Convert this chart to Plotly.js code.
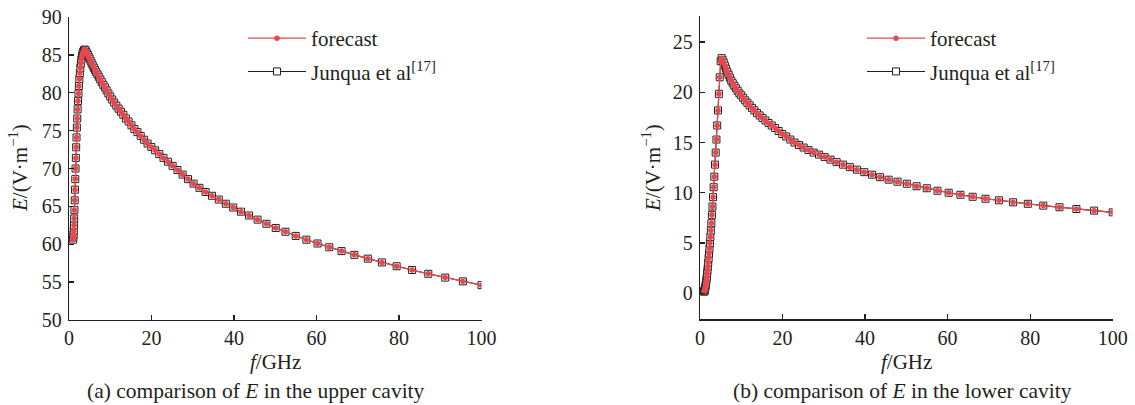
<!DOCTYPE html>
<html>
<head>
<meta charset="utf-8">
<script src="https://cdn.plot.ly/plotly-3.0.1.min.js"></script>
<style>html,body{margin:0;padding:0;background:#fff;}#chart{width:1135px;height:405px;}</style>
</head>
<body>
<div id="chart"></div>
<script>
// frequency samples (GHz)
const freqGHz = [1.000,1.047,1.096,1.148,1.202,1.259,1.318,1.380,1.445,1.514,
1.585,1.660,1.738,1.820,1.905,1.995,2.089,2.188,2.291,2.399,
2.512,2.630,2.754,2.884,3.020,3.162,3.311,3.467,3.631,3.802,
3.981,4.169,4.365,4.571,4.786,5.012,5.248,5.495,5.754,6.026,
6.310,6.607,6.918,7.244,7.586,7.943,8.318,8.710,9.120,9.550,
10.00,10.47,10.96,11.48,12.02,12.59,13.18,13.80,14.45,15.14,
15.85,16.60,17.38,18.20,19.05,19.95,20.89,21.88,22.91,23.99,
25.12,26.30,27.54,28.84,30.20,31.62,33.11,34.67,36.31,38.02,
39.81,41.69,43.65,45.71,47.86,50.12,52.48,54.95,57.54,60.26,
63.10,66.07,69.18,72.44,75.86,79.43,83.18,87.10,91.20,95.50,100.0];

// (a) upper cavity, E in V/m
const eUpperForecast = [60.6,60.9,61.3,61.8,62.5,63.4,64.5,65.8,67.2,68.6,
70.0,71.4,72.8,74.1,75.4,76.6,77.8,78.9,79.9,80.9,
81.8,82.6,83.3,83.9,84.4,84.85,85.2,85.45,85.6,85.7,
85.6,85.4,85.2,85.0,84.75,84.5,84.2,83.9,83.6,83.3,
83.0,82.7,82.4,82.1,81.75,81.4,81.05,80.7,80.3,79.9,
79.5,79.1,78.7,78.3,77.9,77.5,77.1,76.6,76.2,75.7,
75.2,74.8,74.3,73.8,73.3,72.85,72.4,71.9,71.4,70.9,
70.35,69.8,69.2,68.6,68.0,67.45,66.9,66.4,65.9,65.35,
64.85,64.3,63.8,63.25,62.7,62.15,61.65,61.1,60.6,60.1,
59.6,59.1,58.6,58.1,57.6,57.1,56.6,56.1,55.6,55.1,54.6];
const eUpperJunqua = [60.6,60.9,61.3,61.8,62.5,63.4,64.5,65.8,67.2,68.6,
70.0,71.4,72.8,74.1,75.4,76.6,77.8,78.9,79.9,80.9,
81.8,82.6,83.3,83.9,84.4,84.85,85.2,85.45,85.6,85.7,
85.6,85.4,85.2,85.0,84.75,84.5,84.2,83.9,83.6,83.3,
83.0,82.7,82.4,82.1,81.75,81.4,81.05,80.7,80.3,79.9,
79.5,79.1,78.7,78.3,77.9,77.5,77.1,76.6,76.2,75.7,
75.2,74.8,74.3,73.8,73.3,72.85,72.4,71.9,71.4,70.9,
70.35,69.8,69.2,68.6,68.0,67.45,66.9,66.4,65.9,65.35,
64.85,64.3,63.8,63.25,62.7,62.15,61.65,61.1,60.6,60.1,
59.6,59.1,58.6,58.1,57.6,57.1,56.6,56.1,55.6,55.1,54.6];

// (b) lower cavity, E in V/m
const eLowerForecast = [0.15,0.2,0.25,0.3,0.4,0.5,0.65,0.8,0.95,1.15,
1.4,1.65,1.95,2.3,2.65,3.05,3.5,3.95,4.45,4.98,
5.58,6.24,6.97,7.8,8.63,9.56,10.55,11.6,12.8,14.0,
15.3,16.7,18.2,19.85,21.5,23.1,23.4,23.2,22.95,22.65,
22.35,22.05,21.75,21.45,21.15,20.9,20.65,20.4,20.15,19.9,
19.7,19.45,19.2,18.95,18.7,18.45,18.2,17.95,17.7,17.45,
17.2,16.95,16.7,16.45,16.15,15.85,15.6,15.3,15.0,14.75,
14.5,14.25,14.0,13.8,13.55,13.3,13.05,12.8,12.55,12.3,
12.05,11.8,11.55,11.3,11.1,10.9,10.65,10.45,10.2,10.0,
9.8,9.6,9.4,9.25,9.05,8.9,8.72,8.56,8.38,8.22,8.05];
const eLowerJunqua = [0.15,0.2,0.25,0.3,0.4,0.5,0.65,0.8,0.95,1.15,
1.4,1.65,1.95,2.3,2.65,3.05,3.5,3.95,4.45,4.98,
5.58,6.24,6.97,7.8,8.63,9.56,10.55,11.6,12.8,14.0,
15.3,16.7,18.2,19.85,21.5,23.1,23.4,23.2,22.95,22.65,
22.35,22.05,21.75,21.45,21.15,20.9,20.65,20.4,20.15,19.9,
19.7,19.45,19.2,18.95,18.7,18.45,18.2,17.95,17.7,17.45,
17.2,16.95,16.7,16.45,16.15,15.85,15.6,15.3,15.0,14.75,
14.5,14.25,14.0,13.8,13.55,13.3,13.05,12.8,12.55,12.3,
12.05,11.8,11.55,11.3,11.1,10.9,10.65,10.45,10.2,10.0,
9.8,9.6,9.4,9.25,9.05,8.9,8.72,8.56,8.38,8.22,8.05];

const seriesNames = ['forecast', 'Junqua et al<sup>[17]</sup>'];
const xTickVals = [0, 20, 40, 60, 80, 100];
const yTickValsA = [50, 55, 60, 65, 70, 75, 80, 85, 90];
const yTickValsB = [0, 5, 10, 15, 20, 25];
const captions = ['(a) comparison of <i>E</i> in the upper cavity', '(b) comparison of <i>E</i> in the lower cavity'];

const RED = '#e8474f';
const INK = '#231f20';
const FONT = 'Liberation Serif, Times New Roman, serif';

function junquaTrace(y, xa, ya, lg) {
  return {x: freqGHz, y: y, xaxis: xa, yaxis: ya, legend: lg, name: seriesNames[1],
    type: 'scatter', mode: 'lines+markers', legendrank: 2, legendgroup: 'j' + lg,
    line: {color: INK, width: 1.1},
    marker: {symbol: 'square', size: 7, color: '#ffffff', line: {color: INK, width: 1}}};
}
function forecastTrace(y, xa, ya, lg) {
  return {x: freqGHz, y: y, xaxis: xa, yaxis: ya, legend: lg, name: seriesNames[0],
    type: 'scatter', mode: 'lines+markers', legendrank: 1, legendgroup: 'f' + lg,
    line: {color: RED, width: 1.3},
    marker: {symbol: 'circle', size: 5.5, color: RED}};
}

const data = [
  junquaTrace(eUpperJunqua, 'x', 'y', 'legend'),
  forecastTrace(eUpperForecast, 'x', 'y', 'legend'),
  junquaTrace(eLowerJunqua, 'x2', 'y2', 'legend2'),
  forecastTrace(eLowerForecast, 'x2', 'y2', 'legend2')
];

const W = 1135, H = 405;
const px = v => v / W, py = v => 1 - v / H;

const axisCommon = {showline: true, linecolor: INK, linewidth: 1.3, ticks: 'inside', ticklen: 5,
  tickwidth: 1.3, tickcolor: INK, showgrid: false, zeroline: false,
  tickfont: {family: FONT, size: 20, color: INK}};

const legendCommon = {font: {family: FONT, size: 21, color: INK}, bgcolor: 'rgba(0,0,0,0)',
  borderwidth: 0, xanchor: 'left', yanchor: 'top', tracegroupgap: 3, itemwidth: 58};

const titleFont = {family: FONT, size: 21, color: INK};
const capFont = {family: FONT, size: 21.5, color: INK};

const layout = {
  width: W, height: H, margin: {l: 0, r: 0, t: 0, b: 0},
  paper_bgcolor: '#ffffff', plot_bgcolor: '#ffffff', showlegend: true,
  xaxis: Object.assign({}, axisCommon, {domain: [px(69), px(481.5)], range: [0, 100], tickvals: xTickVals, anchor: 'y'}),
  yaxis: Object.assign({}, axisCommon, {domain: [py(320), py(17)], range: [50, 90], tickvals: yTickValsA, anchor: 'x', ticklabelstandoff: 2}),
  xaxis2: Object.assign({}, axisCommon, {domain: [px(700), px(1112.7)], range: [0, 100], tickvals: xTickVals, anchor: 'y2'}),
  yaxis2: Object.assign({}, axisCommon, {domain: [py(319.3), py(16)], range: [-2.6, 27.6], tickvals: yTickValsB, anchor: 'x2', ticklabelstandoff: 2}),
  legend: Object.assign({}, legendCommon, {x: px(243), y: py(18)}),
  legend2: Object.assign({}, legendCommon, {x: px(862), y: py(18)}),
  annotations: [
    {text: '<i>E</i>/(V·m<sup>−1</sup>)', xref: 'paper', yref: 'paper', x: px(19), y: py(168), textangle: -90, showarrow: false, font: titleFont, xanchor: 'center', yanchor: 'middle'},
    {text: '<i>E</i>/(V·m<sup>−1</sup>)', xref: 'paper', yref: 'paper', x: px(652), y: py(168), textangle: -90, showarrow: false, font: titleFont, xanchor: 'center', yanchor: 'middle'},
    {text: '<i>f</i>/GHz', xref: 'paper', yref: 'paper', x: px(275), y: py(362), showarrow: false, font: titleFont, xanchor: 'center', yanchor: 'middle'},
    {text: '<i>f</i>/GHz', xref: 'paper', yref: 'paper', x: px(906), y: py(362), showarrow: false, font: titleFont, xanchor: 'center', yanchor: 'middle'},
    {text: captions[0], xref: 'paper', yref: 'paper', x: px(256), y: py(391), showarrow: false, font: capFont, xanchor: 'center', yanchor: 'middle'},
    {text: captions[1], xref: 'paper', yref: 'paper', x: px(902), y: py(391), showarrow: false, font: capFont, xanchor: 'center', yanchor: 'middle'}
  ]
};

Plotly.newPlot('chart', data, layout, {staticPlot: true, displayModeBar: false});
</script>
</body>
</html>
